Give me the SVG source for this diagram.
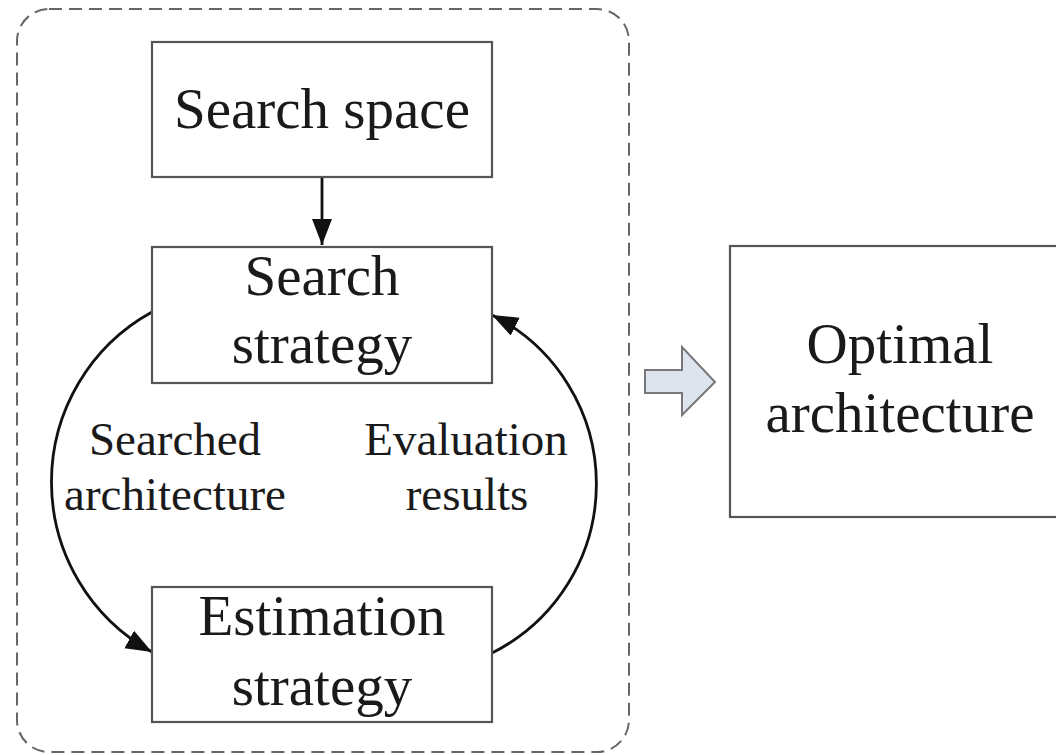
<svg xmlns="http://www.w3.org/2000/svg" width="1056" height="755" viewBox="0 0 1056 755">
<style>
.box{fill:#fff;stroke:#555;stroke-width:2.2}
.t{font-family:"Liberation Serif","Times New Roman",serif;font-size:57px;fill:#1a1a1a;text-anchor:middle}
.l{font-family:"Liberation Serif","Times New Roman",serif;font-size:47px;fill:#1a1a1a;text-anchor:middle}
.c{fill:none;stroke:#111;stroke-width:2.8}
</style>
<defs>
<marker id="ah" markerUnits="userSpaceOnUse" markerWidth="28" markerHeight="22" refX="26" refY="10" orient="auto">
<path d="M0,0 L26,10 L0,20 Z" fill="#111"/>
</marker>
</defs>
<rect id="container" x="17" y="9" width="612" height="743" rx="32" ry="32" fill="none" stroke="#666" stroke-width="2" stroke-dasharray="13,7"/>
<g id="connectors">
<line class="c" x1="322" y1="177" x2="322" y2="245" marker-end="url(#ah)"/>
<path class="c" d="M152,312 A194,194 0 0 0 152,652" marker-end="url(#ah)"/>
<path class="c" d="M492,653 A189,189 0 0 0 492,315" marker-end="url(#ah)"/>
<path d="M645,370 L682,370 L682,347 L715,382 L682,415 L682,393 L645,393 Z" fill="#dde4ee" stroke="#777" stroke-width="2"/>
</g>
<g id="search-space">
<rect class="box" x="152" y="42" width="340" height="135"/>
<text class="t" x="322" y="128">Search space</text>
</g>
<g id="search-strategy">
<rect class="box" x="152" y="247" width="340" height="136"/>
<text class="t" x="322" y="295">Search</text>
<text class="t" x="322" y="363">strategy</text>
</g>
<g id="estimation-strategy">
<rect class="box" x="152" y="587" width="340" height="135"/>
<text class="t" x="322" y="635">Estimation</text>
<text class="t" x="322" y="705">strategy</text>
</g>
<g id="label-searched">
<text class="l" x="175" y="455">Searched</text>
<text class="l" x="175" y="510">architecture</text>
</g>
<g id="label-evaluation">
<text class="l" x="466" y="455">Evaluation</text>
<text class="l" x="467" y="510">results</text>
</g>
<g id="optimal">
<rect class="box" x="730" y="246" width="345" height="271"/>
<text class="t" x="900" y="363">Optimal</text>
<text class="t" x="900" y="432">architecture</text>
</g>
</svg>
